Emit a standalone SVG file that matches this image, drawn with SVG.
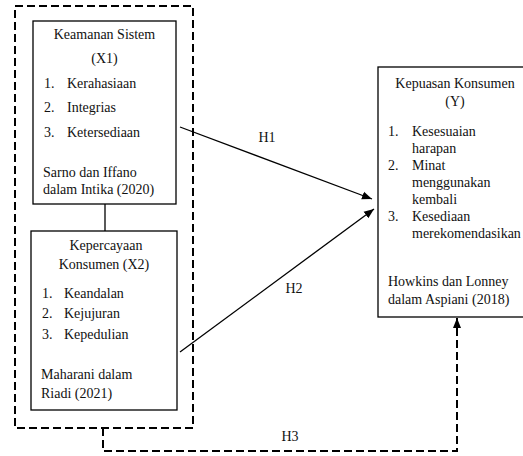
<svg xmlns="http://www.w3.org/2000/svg" width="523" height="456" viewBox="0 0 523 456">
<style>
text{font-family:"Liberation Serif","Times New Roman",serif;font-size:14px;fill:#111}
.c{text-anchor:middle}
.box{fill:#fff;stroke:#000;stroke-width:1.3}
.dash{fill:none;stroke:#000;stroke-width:2;stroke-dasharray:8 4}
.ln{fill:none;stroke:#000;stroke-width:1.3}
</style>
<defs>
<marker id="ah" viewBox="0 0 10 10" refX="10" refY="5" markerWidth="10" markerHeight="10" markerUnits="userSpaceOnUse" orient="auto">
<path d="M0,1 L10,5 L0,9 Z" fill="#000"/>
</marker>
</defs>
<rect width="523" height="456" fill="#fff"/>
<g id="group-box">
<rect class="dash" x="15" y="6" width="178" height="422"/>
</g>
<g id="connectors">
<line class="ln" x1="105" y1="204" x2="105" y2="231"/>
<line class="ln" x1="180" y1="127" x2="372" y2="199" marker-end="url(#ah)"/>
<line class="ln" x1="180" y1="352" x2="374" y2="209" marker-end="url(#ah)"/>
<path d="M103,428 V451 H457 V330" class="dash"/>
<line x1="457" y1="330" x2="457" y2="318" stroke="#000" stroke-width="2" marker-end="url(#ah)"/>
<text x="267" y="142" class="c">H1</text>
<text x="294" y="293" class="c">H2</text>
<text x="290" y="441" class="c">H3</text>
</g>
<g id="x1">
<rect class="box" x="33" y="21" width="143" height="183"/>
<text x="104.5" y="39" class="c">Keamanan Sistem</text>
<text x="104.5" y="63" class="c">(X1)</text>
<text x="44" y="88">1.</text><text x="67" y="88">Kerahasiaan</text>
<text x="44" y="112">2.</text><text x="67" y="112">Integrias</text>
<text x="44" y="137">3.</text><text x="67" y="137">Ketersediaan</text>
<text x="43" y="177">Sarno dan Iffano</text>
<text x="43" y="194">dalam Intika (2020)</text>
</g>
<g id="x2">
<rect class="box" x="31" y="231" width="146" height="179"/>
<text x="106" y="250" class="c">Kepercayaan</text>
<text x="104" y="269" class="c">Konsumen (X2)</text>
<text x="42" y="298">1.</text><text x="64" y="298">Keandalan</text>
<text x="42" y="318">2.</text><text x="64" y="318">Kejujuran</text>
<text x="42" y="339">3.</text><text x="64" y="339">Kepedulian</text>
<text x="41" y="379">Maharani dalam</text>
<text x="41" y="398">Riadi (2021)</text>
</g>
<g id="y">
<rect class="box" x="378" y="67" width="152" height="250"/>
<text x="455" y="88" class="c">Kepuasan Konsumen</text>
<text x="455" y="106" class="c">(Y)</text>
<text x="388" y="136">1.</text><text x="412" y="136">Kesesuaian</text>
<text x="412" y="153">harapan</text>
<text x="388" y="170">2.</text><text x="412" y="170">Minat</text>
<text x="412" y="187">menggunakan</text>
<text x="412" y="204">kembali</text>
<text x="388" y="221">3.</text><text x="412" y="221">Kesediaan</text>
<text x="412" y="238">merekomendasikan</text>
<text x="388" y="286">Howkins dan Lonney</text>
<text x="388" y="304">dalam Aspiani (2018)</text>
</g>
</svg>
